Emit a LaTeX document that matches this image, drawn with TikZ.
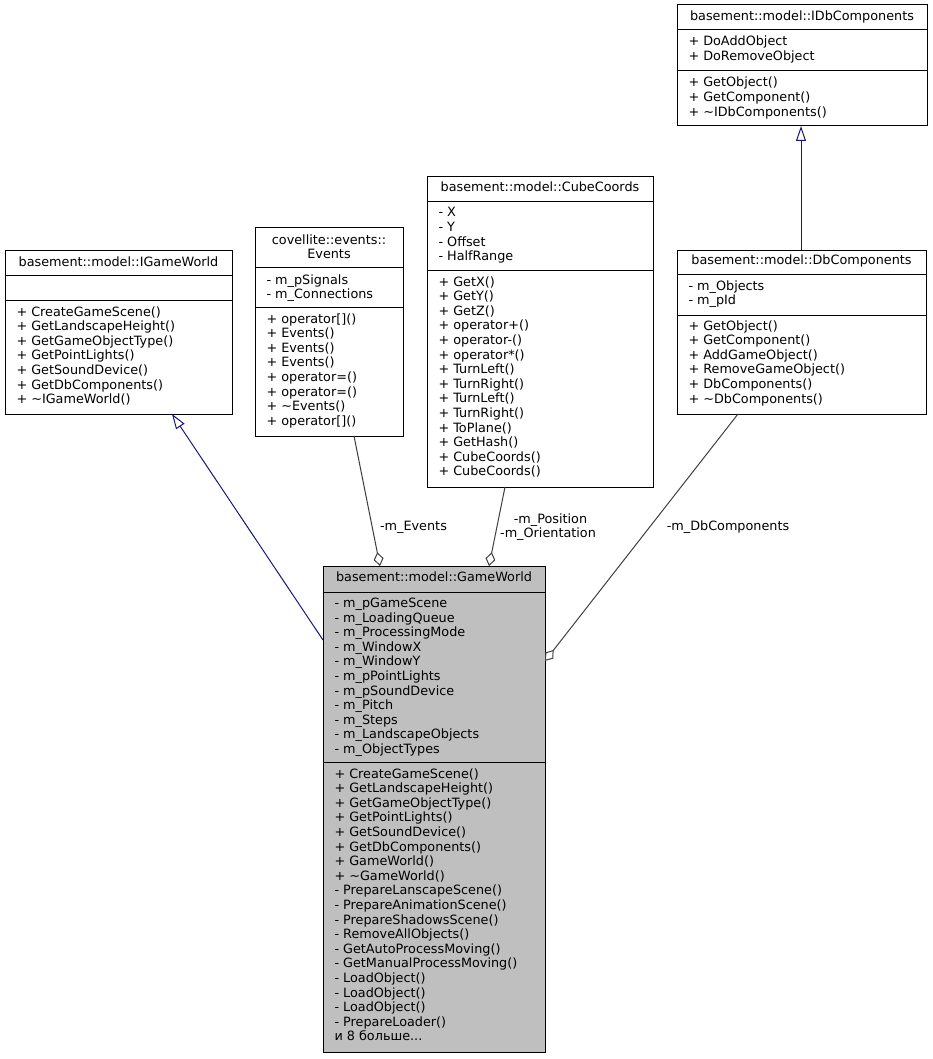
\documentclass[tikz,border=0pt]{standalone}
\usepackage{fontspec}
\setmainfont{DejaVu Sans}
\usetikzlibrary{arrows.meta}
\definecolor{inhcol}{HTML}{191970}
\definecolor{compcol}{HTML}{404040}
\definecolor{gwfill}{HTML}{BFBFBF}
\newcommand{\fs}{\fontsize{12.8}{14.6}\selectfont}
\tikzset{
 umlbox/.style={draw=black, line width=1pt, inner sep=0pt, outer sep=0pt, anchor=north west},
 mem/.style={anchor=base west, inner sep=0pt, outer sep=0pt, font=\fs},
 hdr/.style={anchor=base, inner sep=0pt, outer sep=0pt, font=\fs},
 sepline/.style={draw=black, line width=1pt},
 inhedge/.style={draw=inhcol, line width=1pt, -{Triangle[open, fill=white, length=15pt, width=10pt]}},
 compedge/.style={draw=compcol, line width=1pt, -{Diamond[open, fill=white, length=14pt, width=10pt]}},
 elabel/.style={font=\fs, inner sep=0pt, anchor=base, align=center},
}
\newcommand{\umlbox}[6]{% name, x1, y1, x2, y2, fill
  \node[umlbox, fill=#6, minimum width={#4-#2}, minimum height={#5-#3}] (#1) at (#2,#3) {};}
\newcommand{\mlines}[5]{% name, x, first baseline, step, list
  \foreach \t [count=\i from 0] in {#5} {\node[mem] (#1-\i) at (#2, {#3+\i*#4}) {\t};}}
\begin{document}
\begin{tikzpicture}[x=1pt, y=-1pt]
\fill[white] (0,0) rectangle (932,1059);
\useasboundingbox (0,0) rectangle (932,1059);

% ---------- IGameWorld ----------
\umlbox{igw}{5}{250}{232}{414}{white}
\draw[sepline] (5,275) -- (232,275);
\draw[sepline] (5,300) -- (232,300);
\node[hdr] (igw-h) at (118.5,266) {basement::model::IGameWorld};
\mlines{igwm}{16.5}{316}{14.6}{+ CreateGameScene(),+ GetLandscapeHeight(),+ GetGameObjectType(),+ GetPointLights(),+ GetSoundDevice(),+ GetDbComponents(),+ \textasciitilde IGameWorld()}

% ---------- Events ----------
\umlbox{ev}{255}{228}{403}{436}{white}
\draw[sepline] (255,267) -- (403,267);
\draw[sepline] (255,307) -- (403,307);
\node[hdr] (ev-h1) at (329,244) {covellite::events::};
\node[hdr] (ev-h2) at (329,258.5) {Events};
\mlines{eva}{266.5}{284}{14.6}{- m\_pSignals,- m\_Connections}
\mlines{evm}{266.5}{323}{14.6}{+ operator[](),+ Events(),+ Events(),+ Events(),+ operator=(),+ operator=(),+ \textasciitilde Events(),+ operator[]()}

% ---------- CubeCoords ----------
\umlbox{cc}{427}{177}{653}{487}{white}
\draw[sepline] (427,202) -- (653,202);
\draw[sepline] (427,270) -- (653,270);
\node[hdr] (cc-h) at (540,192) {basement::model::CubeCoords};
\mlines{cca}{438.5}{217}{14.6}{- X,- Y,- Offset,- HalfRange}
\mlines{ccm}{438.5}{286}{14.6}{+ GetX(),+ GetY(),+ GetZ(),+ operator+(),+ operator-(),+ operator*(),+ TurnLeft(),+ TurnRight(),+ TurnLeft(),+ TurnRight(),+ ToPlane(),+ GetHash(),+ CubeCoords(),+ CubeCoords()}

% ---------- IDbComponents ----------
\umlbox{idb}{677}{5}{927}{126}{white}
\draw[sepline] (677,30) -- (927,30);
\draw[sepline] (677,71) -- (927,71);
\node[hdr] (idb-h) at (802,21) {basement::model::IDbComponents};
\mlines{idba}{688.5}{46}{14.6}{+ DoAddObject,+ DoRemoveObject}
\mlines{idbm}{688.5}{87}{14.6}{+ GetObject(),+ GetComponent(),+ \textasciitilde IDbComponents()}

% ---------- DbComponents ----------
\umlbox{db}{677}{250}{926}{414}{white}
\draw[sepline] (677,274) -- (926,274);
\draw[sepline] (677,315) -- (926,315);
\node[hdr] (db-h) at (801.5,265) {basement::model::DbComponents};
\mlines{dba}{688.5}{290}{14.6}{- m\_Objects,- m\_pId}
\mlines{dbm}{688.5}{330}{14.6}{+ GetObject(),+ GetComponent(),+ AddGameObject(),+ RemoveGameObject(),+ DbComponents(),+ \textasciitilde DbComponents()}

% ---------- GameWorld ----------
\umlbox{gw}{323}{566}{545}{1052}{gwfill}
\draw[sepline] (323,592) -- (545,592);
\draw[sepline] (323,762) -- (545,762);
\node[hdr] (gw-h) at (434,581) {basement::model::GameWorld};
\mlines{gwa}{334.5}{607.5}{14.6}{- m\_pGameScene,- m\_LoadingQueue,- m\_ProcessingMode,- m\_WindowX,- m\_WindowY,- m\_pPointLights,- m\_pSoundDevice,- m\_Pitch,- m\_Steps,- m\_LandscapeObjects,- m\_ObjectTypes}
\mlines{gwm}{334.5}{778}{14.6}{+ CreateGameScene(),+ GetLandscapeHeight(),+ GetGameObjectType(),+ GetPointLights(),+ GetSoundDevice(),+ GetDbComponents(),+ GameWorld(),+ \textasciitilde GameWorld(),- PrepareLanscapeScene(),- PrepareAnimationScene(),- PrepareShadowsScene(),- RemoveAllObjects(),- GetAutoProcessMoving(),- GetManualProcessMoving(),- LoadObject(),- LoadObject(),- LoadObject(),- PrepareLoader()}
\node[mem] (gwm-more) at (334.5,{778+18*14.6}) {и 8 больше...};

% ---------- connector end points ----------
\coordinate (gw-inh) at (323,640);
\coordinate (igw-inh) at (172,414);
\coordinate (db-inh) at (801,250);
\coordinate (idb-inh) at (801,126);
\coordinate (ev-out) at (354,436);
\coordinate (gw-ev) at (380,566);
\coordinate (cc-out) at (505,487);
\coordinate (gw-cc) at (489,566);
\coordinate (db-out) at (738,414);
\coordinate (gw-db) at (545,661);

% ---------- connectors ----------
\draw[inhedge] (gw-inh) -- (igw-inh);
\draw[inhedge] (db-inh) -- (idb-inh);
\draw[compedge] (ev-out) -- (gw-ev);
\draw[compedge] (cc-out) -- (gw-cc);
\draw[compedge] (db-out) -- (gw-db);

% ---------- labels ----------
\node[elabel] (l-ev) at (413.5,530) {-m\_Events};
\node[elabel] (l-cc1) at (550.5,523) {-m\_Position};
\node[elabel] (l-cc2) at (548,537) {-m\_Orientation};
\node[elabel] (l-db) at (728,530) {-m\_DbComponents};
\end{tikzpicture}
\end{document}
